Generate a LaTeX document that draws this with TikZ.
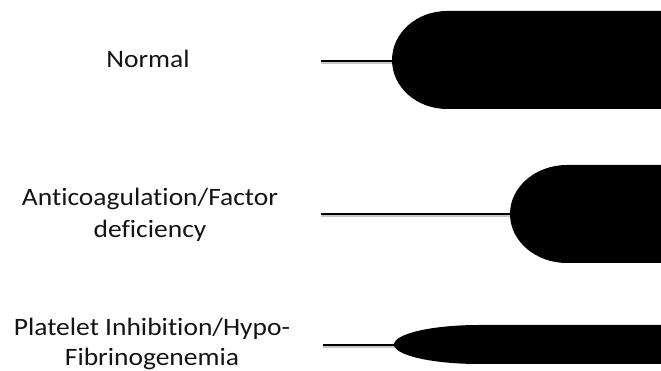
\documentclass[tikz,border=0pt]{standalone}
\usepackage{fontspec}
\setmainfont{Carlito}[FakeStretch=1.1, Ligatures={NoCommon}]
\begin{document}
\begin{tikzpicture}[x=1pt,y=1pt,
  lbl/.style={font=\fontsize{25}{30}\selectfont, text=black!92, inner sep=0pt, anchor=base},
  stem/.style={line width=2pt, black},
  stemshadow/.style={line width=2pt, black!22},
  clot/.style={fill=black}]
\useasboundingbox (0,0) rectangle (661,371);
\clip (0,0) rectangle (661,371);

% labels
\node[lbl] (normal) at (148,303) {Normal};
\node[lbl] (anti1) at (150,165) {Anticoagulation/Factor};
\node[lbl] (anti2) at (150,133) {deficiency};
\node[lbl] (plat1) at (152,35) {Platelet Inhibition/Hypo-};
\node[lbl] (plat2) at (152,5) {Fibrinogenemia};

% Normal
\coordinate (s1) at (321,310);
\coordinate (b1) at (392,310);
\draw[stemshadow] ([yshift=-1.6pt]s1) -- ([yshift=-1.6pt]b1);
\draw[stem] (s1) -- (b1);
\fill[clot] (662,360) -- (447,360) arc[start angle=90, end angle=270, x radius=55, y radius=49] -- (662,262) -- cycle;

% Anticoagulation
\coordinate (s2) at (321,157);
\coordinate (b2) at (511,157);
\draw[stemshadow] ([yshift=-1.6pt]s2) -- ([yshift=-1.6pt]b2);
\draw[stem] (s2) -- (b2);
\fill[clot] (662,206) -- (567,206) arc[start angle=90, end angle=270, x radius=57, y radius=49] -- (662,108) -- cycle;

% Platelet inhibition
\coordinate (s3) at (323,25.5);
\coordinate (b3) at (395,25.5);
\draw[stemshadow] ([yshift=-1.6pt]s3) -- ([yshift=-1.6pt]b3);
\draw[stem] (s3) -- (b3);
\fill[clot] (662,46) -- (479,46) arc[start angle=90, end angle=270, x radius=85, y radius=19.5] -- (662,7) -- cycle;
\end{tikzpicture}
\end{document}
